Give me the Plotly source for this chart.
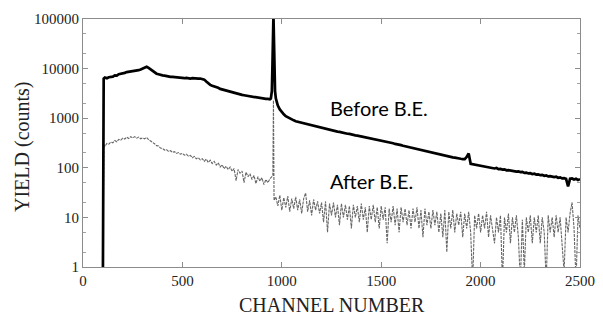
import plotly.graph_objects as go

# ---------------- data ----------------
before_channel = [100, 104, 110, 120, 130, 140, 150, 160, 170, 180, 190, 200, 210, 220, 230, 240, 250,
                  260, 270, 280, 290, 300, 310, 320, 330, 340, 350, 360, 370, 380, 390, 400, 410, 420,
                  430, 440, 450, 460, 470, 480, 490, 500, 510, 520, 530, 540, 550, 560, 570, 580, 590,
                  600, 610, 620, 630, 640, 650, 660, 670, 680, 690, 700, 710, 720, 730, 740, 750, 760,
                  770, 780, 790, 800, 810, 820, 830, 840, 850, 860, 870, 880, 890, 900, 910, 920, 930,
                  940, 945, 950, 953, 956, 958, 960, 963, 966, 970, 980, 990,
                  1000, 1010, 1020, 1030, 1040, 1050, 1060, 1070, 1080, 1090, 1100, 1110, 1120, 1130,
                  1140, 1150, 1160, 1170, 1180, 1190, 1200, 1210, 1220, 1230, 1240, 1250, 1260, 1270,
                  1280, 1290, 1300, 1310, 1320, 1330, 1340, 1350, 1360, 1370, 1380, 1390, 1400, 1410,
                  1420, 1430, 1440, 1450, 1460, 1470, 1480, 1490, 1500, 1510, 1520, 1530, 1540, 1550,
                  1560, 1570, 1580, 1590, 1600, 1610, 1620, 1630, 1640, 1650, 1660, 1670, 1680, 1690,
                  1700, 1710, 1720, 1730, 1740, 1750, 1760, 1770, 1780, 1790, 1800, 1810, 1820, 1830,
                  1840, 1850, 1860, 1870, 1880, 1890, 1900, 1910, 1920, 1930, 1940, 1950, 1960, 1970,
                  1980, 1990, 2000, 2010, 2020, 2030, 2040, 2050, 2060, 2070, 2080, 2090, 2100, 2110,
                  2120, 2130, 2140, 2150, 2160, 2170, 2180, 2190, 2200, 2210, 2220, 2230, 2240, 2250,
                  2260, 2270, 2280, 2290, 2300, 2310, 2320, 2330, 2340, 2350, 2360, 2370, 2380, 2390,
                  2400, 2410, 2420, 2430, 2440, 2450, 2460, 2470, 2480, 2490, 2500]
before_yield = [0.5, 6300, 6600, 6400, 6700, 6800, 6900, 7300, 7200, 7700, 7800, 8100, 8200, 8500, 8600,
                8900, 8800, 9200, 9300, 9300, 9600, 9900, 10500, 10900, 10300, 9600, 8800, 8300, 7900,
                7700, 7400, 7300, 7200, 7000, 7000, 6800, 6800, 6700, 6600, 6600, 6500, 6500, 6400,
                6500, 6300, 6300, 6400, 6300, 6400, 6300, 6300, 6200, 6000, 5500, 5000, 4700, 4500,
                4400, 4200, 4100, 3900, 3800, 3700, 3600, 3500, 3400, 3300, 3200, 3100, 3050, 3000,
                2950, 2900, 2850, 2800, 2750, 2700, 2650, 2600, 2550, 2550, 2500, 2500, 2450, 2450,
                2400, 2500, 3500, 12000, 50000, 120000, 50000, 9000, 3500, 2500, 1800, 1500,
                1300, 1200, 1100, 1040, 980, 940, 905, 870, 850, 818, 800, 778, 760, 742,
                725, 708, 690, 672, 660, 640, 632, 615, 607, 592, 588, 570, 556, 550,
                536, 530, 515, 508, 500, 486, 482, 468, 462, 452, 446, 438, 428, 420,
                410, 405, 396, 390, 380, 376, 366, 362, 355, 346, 340, 334, 325, 318,
                312, 303, 300, 290, 286, 278, 272, 266, 260, 252, 250, 240, 238, 230,
                226, 220, 216, 208, 206, 200, 197, 192, 188, 186, 180, 178, 174, 172,
                168, 165, 162, 160, 156, 155, 152, 150, 150, 165, 195, 120, 118, 116,
                113, 112, 110, 106, 108, 103, 104, 100, 101, 97, 99, 94, 95, 92,
                93, 89, 90, 88, 86, 87, 84, 85, 82, 83, 79, 80, 77, 78,
                75, 76, 73, 74, 71, 72, 69, 70, 67, 68, 66, 65, 66, 63,
                64, 61, 62, 60, 42, 60, 61, 58, 60, 57, 59]

after_channel = [100, 105, 110, 120, 130, 140, 150, 160, 170, 180, 190, 200, 210, 220, 230, 240, 250,
                 260, 270, 280, 290, 300, 310, 320, 330, 340, 350, 360, 370, 380, 390, 400, 410, 420,
                 430, 440, 450, 460, 470, 480, 490, 500, 510, 520, 530, 540, 550, 560, 570, 580, 590,
                 600, 610, 620, 630, 640, 650, 660, 670, 680, 690, 700, 710, 720, 730, 740, 750, 760,
                 770, 780, 790, 800, 810, 820, 830, 840, 850, 860, 870, 880, 890, 900, 910, 920, 930,
                 940, 950, 955, 958, 961,
                 970, 980, 990, 1000, 1010, 1020, 1030, 1040, 1050, 1060, 1070, 1080, 1090, 1100,
                 1110, 1120, 1130, 1140, 1150, 1160, 1170, 1180, 1190, 1200, 1210, 1220, 1230, 1240,
                 1250, 1260, 1270, 1280, 1290, 1300, 1310, 1320, 1330, 1340, 1350, 1360, 1370, 1380,
                 1390, 1400, 1410, 1420, 1430, 1440, 1450, 1460, 1470, 1480, 1490, 1500, 1510, 1520,
                 1530, 1540, 1550, 1560, 1570, 1580, 1590, 1600, 1610, 1620, 1630, 1640, 1650, 1660,
                 1670, 1680, 1690, 1700, 1710, 1720, 1730, 1740, 1750, 1760, 1770, 1780, 1790, 1800,
                 1810, 1820, 1830, 1840, 1850, 1860, 1870, 1880, 1890, 1900, 1910, 1920, 1930, 1940,
                 1950, 1960, 1970, 1980, 1990, 2000, 2010, 2020, 2030, 2040, 2050, 2060, 2070, 2080,
                 2090, 2100, 2110, 2120, 2130, 2140, 2150, 2160, 2170, 2180, 2190, 2200, 2210, 2220,
                 2230, 2240, 2250, 2260, 2270, 2280, 2290, 2300, 2310, 2320, 2330, 2340, 2350, 2360,
                 2370, 2380, 2390, 2400, 2410, 2420, 2430, 2440, 2450, 2460, 2470, 2480, 2490, 2500]
after_yield = [0.5, 290, 270, 310, 300, 330, 320, 355, 335, 375, 360, 395, 380, 415, 390, 425, 400,
               425, 395, 415, 385, 400, 385, 410, 370, 350, 320, 305, 280, 275, 250, 245, 228, 232,
               215, 222, 205, 212, 195, 203, 188, 195, 180, 188, 172, 178, 160, 170, 152, 160, 145,
               152, 135, 150, 128, 142, 122, 135, 114, 126, 104, 115, 96, 108, 92, 104, 85, 96,
               55, 92, 78, 86, 50, 82, 66, 76, 58, 70, 48, 66, 54, 63, 46, 58, 50,
               60, 66, 70, 2300, 22,
               26, 17, 28, 14, 25, 16, 27, 13, 24, 15, 26, 14, 23, 12,
               24, 31, 13, 22, 11, 23, 14, 21, 12, 20, 8, 21, 5, 19,
               11, 20, 10, 18, 7, 19, 10, 18, 9, 17, 6, 18, 10, 17,
               8, 19, 9, 16, 5, 17, 9, 18, 8, 16, 6, 17, 9, 16,
               3, 15, 8, 17, 7, 15, 5, 16, 8, 15, 7, 14, 6, 15,
               8, 16, 6, 14, 4, 15, 7, 13, 6, 14, 7, 13, 5, 12,
               4, 14, 2, 13, 6, 14, 5, 12, 7, 13, 4, 12, 6, 13,
               5, 0.5, 11, 6, 12, 5, 11, 6, 13, 4, 11, 6, 3, 10,
               5, 11, 0.5, 10, 5, 12, 3, 10, 5, 11, 4, 0.5, 9, 0.8,
               10, 5, 11, 3, 10, 5, 11, 3, 10, 5, 0.5, 11, 5, 10,
               4, 11, 5, 10, 2, 0.8, 10, 5, 12, 20, 6, 0.5, 11, 6]

x_tick_values = [0, 500, 1000, 1500, 2000, 2500]
y_tick_values = [1, 10, 100, 1000, 10000, 100000]
y_tick_labels = ["1", "10", "100", "1000", "10000", "100000"]
labels = ["Before B.E.", "After B.E."]
x_title = "CHANNEL NUMBER"
y_title = "YIELD (counts)"

# ---------------- figure ----------------
fig = go.Figure()
fig.add_trace(go.Scatter(x=after_channel, y=after_yield, mode="lines", name=labels[1],
                         line=dict(color="#666666", width=1.1, dash="3px,1px")))
fig.add_trace(go.Scatter(x=before_channel, y=before_yield, mode="lines", name=labels[0],
                         line=dict(color="black", width=2.7)))

serif = "Liberation Serif, Times New Roman, serif"
axis_common = dict(showline=True, mirror="ticks", linecolor="#8c8c8c", linewidth=1.2,
                   ticks="inside", ticklen=5, tickcolor="#8c8c8c", tickwidth=1,
                   showgrid=False, zeroline=False, automargin=False,
                   tickfont=dict(family=serif, size=15, color="#222"))

fig.update_xaxes(range=[0, 2500], tickvals=x_tick_values, **axis_common)
fig.update_yaxes(type="log", range=[0, 5], tickvals=y_tick_values, ticktext=y_tick_labels,
                 minor=dict(ticks="inside", ticklen=3, tickcolor="#a0a0a0", dtick="D2"),
                 **axis_common)

# axis titles
fig.add_annotation(x=0.5, y=-0.152, xref="paper", yref="paper", text=x_title, showarrow=False,
                   xanchor="center", yanchor="middle",
                   font=dict(family=serif, size=20, color="#222"))
fig.add_annotation(x=-0.1217, y=0.486, xref="paper", yref="paper", text=y_title, showarrow=False,
                   textangle=-90, xanchor="center", yanchor="middle",
                   font=dict(family=serif, size=20, color="#222"))

# series labels
fig.add_annotation(x=1232, y=3.206, xref="x", yref="y", text=labels[0], showarrow=False,
                   xanchor="left", yanchor="middle",
                   font=dict(family="Lato, Open Sans, sans-serif", size=20, color="black"))
fig.add_annotation(x=1232, y=1.724, xref="x", yref="y", text=labels[1], showarrow=False,
                   xanchor="left", yanchor="middle",
                   font=dict(family="Lato, Open Sans, sans-serif", size=20, color="black"))

fig.update_layout(width=603, height=317, margin=dict(l=83, r=23, t=19, b=50),
                  paper_bgcolor="white", plot_bgcolor="white", showlegend=False)

fig.write_html("out.html", config={"displayModeBar": False},
               post_script="document.body.style.margin='0';")
